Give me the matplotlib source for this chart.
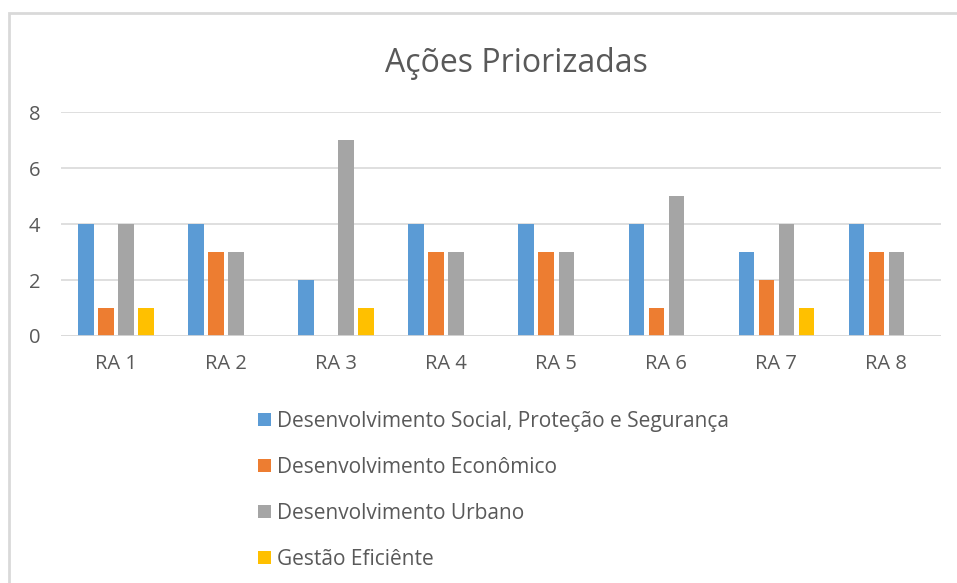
import matplotlib.pyplot as plt
import matplotlib.patches as mpatches
import numpy as np

categories = ["RA 1", "RA 2", "RA 3", "RA 4", "RA 5", "RA 6", "RA 7", "RA 8"]
series_names = ["Desenvolvimento Social, Proteção e Segurança",
                "Desenvolvimento Econômico",
                "Desenvolvimento Urbano",
                "Gestão Eficiênte"]
social = [4, 4, 2, 4, 4, 4, 3, 4]
economico = [1, 3, 0, 3, 3, 1, 2, 3]
urbano = [4, 3, 7, 3, 3, 5, 4, 3]
gestao = [1, 0, 1, 0, 0, 0, 1, 0]
colors = ["#5b9bd5", "#ed7d31", "#a5a5a5", "#ffc000"]

plt.rcParams['font.family'] = ['Open Sans', 'DejaVu Sans']

fig = plt.figure(figsize=(9.57, 5.83), dpi=100)
ax = fig.add_axes([0.0637, 0.4237, 0.920, 0.384])

x = np.arange(len(categories))
pitch = 0.182
all_series = [social, economico, urbano, gestao]
handles = []
for i, vals in enumerate(all_series):
    b = ax.bar(x + (i - 1.5) * pitch, vals, width=0.14, color=colors[i],
               label=series_names[i], zorder=3)
    handles.append(b)

ax.set_xlim(-0.5, len(categories) - 0.5)
ax.set_ylim(0, 8)
ax.set_yticks([0, 2, 4, 6, 8])
ax.set_xticks(x)
ax.set_xticklabels(categories)
ax.grid(axis='y', color='#d9d9d9', linewidth=1.2, zorder=0)
for s in ax.spines.values():
    s.set_visible(False)
ax.axhline(0, color='#d9d9d9', linewidth=1.2, zorder=4)
ax.tick_params(axis='both', length=0, labelsize=14.5, colors='#595959')
ax.tick_params(axis='x', pad=13)
ax.tick_params(axis='y', pad=15)

fig.text(0.540, 0.891, "Ações Priorizadas", ha='center', va='center',
         fontsize=23, color='#595959')

fig.legend(handles=handles, loc='center left', bbox_to_anchor=(0.2696, 0.1595),
           frameon=False, fontsize=15, labelcolor='#595959', borderpad=0,
           borderaxespad=0, handlelength=0.6, handleheight=0.6,
           handletextpad=0.3, labelspacing=1.2)

# chart border
fig.patches.append(mpatches.Rectangle((9 / 957, -0.1), 1.2, 0.1 + (583 - 13) / 583,
                                      transform=fig.transFigure, fill=False,
                                      edgecolor='#d9d9d9', linewidth=2))

fig.savefig("out.png", dpi=100)
